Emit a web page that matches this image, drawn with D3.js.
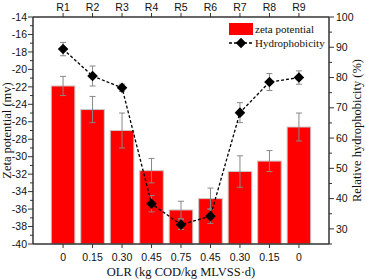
<!DOCTYPE html>
<html>
<head>
<meta charset="utf-8">
<script src="https://cdn.jsdelivr.net/npm/d3@7"></script>
<style>
  html, body { margin: 0; padding: 0; background: #fff; }
  svg { display: block; }
  .tick-label { font-family: "Liberation Sans", Arial, sans-serif; font-size: 10.5px; fill: #111; }
  .title { font-family: "Liberation Serif", "Times New Roman", serif; font-size: 12.5px; fill: #111; }
  .legend { font-family: "Liberation Serif", "Times New Roman", serif; font-size: 11px; fill: #111; }
</style>
</head>
<body>
<svg id="chart" width="366" height="279"></svg>
<script>
/* ─── Data ───────────────────────────────────────────────────────────── */

const reactors  = ['R1', 'R2', 'R3', 'R4', 'R5', 'R6', 'R7', 'R8', 'R9'];
const olrLabels = ['0', '0.15', '0.30', '0.45', '0.75', '0.45', '0.30', '0.15', '0'];

const zeta      = [-21.9, -24.6, -27.0, -31.6, -36.1, -34.8, -31.7, -30.5, -26.6];
const zetaErr   = [1.1, 1.5, 2.0, 1.4, 1.0, 1.2, 1.8, 1.2, 1.6];

const hydro     = [89.4, 80.5, 76.6, 38.3, 31.4, 34.2, 68.4, 78.5, 80.0];
const hydroErr  = [2.2, 3.3, 1.2, 2.7, 1.6, 2.4, 3.3, 2.8, 2.2];

const leftTicks  = d3.range(-40, -13, 2);
const rightTicks = [30, 40, 50, 60, 70, 80, 90, 100];

/* ─── Layout ─────────────────────────────────────────────────────────── */

const X0 = 33, X1 = 329, Y0 = 17, Y1 = 244;
const AXIS = '#333';
const ERR  = '#888';

const svg = d3.select('#chart');

const x  = d3.scalePoint().domain(d3.range(reactors.length)).range([X0, X1]).padding(1.02);
const bw = x.step() * 0.8;
const yL = d3.scaleLinear().domain([-40, -14]).range([Y1, Y0]);
const yR = d3.scaleLinear().domain([25, 100]).range([Y1, Y0]);

/* ─── Bars ───────────────────────────────────────────────────────────── */

svg.append('g').selectAll('rect')
  .data(zeta)
  .join('rect')
  .attr('x', (d, i) => x(i) - bw / 2)
  .attr('y', d => yL(d))
  .attr('width', bw)
  .attr('height', d => yL(-40) - yL(d))
  .attr('fill', '#ff0000')
  .attr('stroke', '#c8c8c8')
  .attr('stroke-width', 1);

function errorBars(vals, errs, scale) {
  const g = svg.append('g').attr('stroke', ERR).attr('stroke-width', 1);
  vals.forEach((v, i) => {
    const cx = x(i), top = scale(v + errs[i]), bot = scale(v - errs[i]);
    g.append('line').attr('x1', cx).attr('x2', cx).attr('y1', top).attr('y2', bot);
    g.append('line').attr('x1', cx - 3).attr('x2', cx + 3).attr('y1', top).attr('y2', top);
    g.append('line').attr('x1', cx - 3).attr('x2', cx + 3).attr('y1', bot).attr('y2', bot);
  });
}

errorBars(zeta, zetaErr, yL);

/* ─── Hydrophobicity line ────────────────────────────────────────────── */

errorBars(hydro, hydroErr, yR);

svg.append('path')
  .datum(hydro)
  .attr('fill', 'none')
  .attr('stroke', '#000')
  .attr('stroke-width', 1.3)
  .attr('stroke-dasharray', '3,2')
  .attr('d', d3.line().x((d, i) => x(i)).y(d => yR(d)));

const diamond = d3.symbol().type(d3.symbolSquare).size(56)();

svg.append('g').selectAll('path')
  .data(hydro)
  .join('path')
  .attr('d', diamond)
  .attr('transform', (d, i) => `translate(${x(i)},${yR(d)}) rotate(45)`)
  .attr('fill', '#000');

/* ─── Axes ───────────────────────────────────────────────────────────── */

const axes = svg.append('g').attr('stroke', AXIS).attr('stroke-width', 1.5);

// frame lines (left, right, top, bottom)
axes.append('line').attr('x1', X0).attr('x2', X0).attr('y1', Y0).attr('y2', Y1);
axes.append('line').attr('x1', X1).attr('x2', X1).attr('y1', Y0).attr('y2', Y1);
axes.append('line').attr('x1', X0).attr('x2', X1).attr('y1', Y0).attr('y2', Y0);
axes.append('line').attr('x1', X0).attr('x2', X1).attr('y1', Y1).attr('y2', Y1);

// left ticks: major every 2, minor every 1
d3.range(-40, -13, 1).forEach(v => {
  const major = v % 2 === 0;
  axes.append('line')
    .attr('x1', X0).attr('x2', X0 - (major ? 5 : 3))
    .attr('y1', yL(v)).attr('y2', yL(v))
    .attr('stroke-width', 1);
});
svg.append('g').selectAll('text')
  .data(leftTicks)
  .join('text')
  .attr('class', 'tick-label')
  .attr('x', X0 - 6)
  .attr('y', d => yL(d))
  .attr('dy', '0.35em')
  .attr('text-anchor', 'end')
  .text(d => d);

// right ticks: major every 10, minor every 5
d3.range(25, 101, 5).forEach(v => {
  const major = v % 10 === 0;
  axes.append('line')
    .attr('x1', X1).attr('x2', X1 + (major ? 5 : 3))
    .attr('y1', yR(v)).attr('y2', yR(v))
    .attr('stroke-width', 1);
});
svg.append('g').selectAll('text')
  .data(rightTicks)
  .join('text')
  .attr('class', 'tick-label')
  .attr('x', X1 + 7)
  .attr('y', d => yR(d))
  .attr('dy', '0.35em')
  .text(d => d);

// top / bottom category ticks
reactors.forEach((r, i) => {
  axes.append('line').attr('x1', x(i)).attr('x2', x(i)).attr('y1', Y0).attr('y2', Y0 - 4).attr('stroke-width', 1);
  axes.append('line').attr('x1', x(i)).attr('x2', x(i)).attr('y1', Y1).attr('y2', Y1 + 4).attr('stroke-width', 1);
});
svg.append('g').selectAll('text')
  .data(reactors)
  .join('text')
  .attr('class', 'tick-label')
  .attr('x', (d, i) => x(i))
  .attr('y', 11)
  .attr('text-anchor', 'middle')
  .text(d => d);
svg.append('g').selectAll('text')
  .data(olrLabels)
  .join('text')
  .attr('class', 'tick-label')
  .attr('x', (d, i) => x(i))
  .attr('y', 261)
  .attr('text-anchor', 'middle')
  .text(d => d);

/* ─── Titles ─────────────────────────────────────────────────────────── */

svg.append('text')
  .attr('class', 'title')
  .attr('x', (X0 + X1) / 2)
  .attr('y', 276)
  .attr('text-anchor', 'middle')
  .text('OLR (kg COD/kg MLVSS·d)');

svg.append('text')
  .attr('class', 'title')
  .attr('transform', `translate(11,${(Y0 + Y1) / 2}) rotate(-90)`)
  .attr('text-anchor', 'middle')
  .text('Zeta potential (mv)');

svg.append('text')
  .attr('class', 'title')
  .attr('transform', `translate(361,${(Y0 + Y1) / 2}) rotate(-90)`)
  .attr('text-anchor', 'middle')
  .text('Relative hydrophobicity (%)');

/* ─── Legend ─────────────────────────────────────────────────────────── */

const leg = svg.append('g');
leg.append('rect')
  .attr('x', 229).attr('y', 23).attr('width', 24).attr('height', 12)
  .attr('fill', '#ff0000');
leg.append('text').attr('class', 'legend').attr('x', 255).attr('y', 33).text('zeta potential');

leg.append('line')
  .attr('x1', 229).attr('x2', 253).attr('y1', 43).attr('y2', 43)
  .attr('stroke', '#000').attr('stroke-width', 1.3).attr('stroke-dasharray', '3,2');
leg.append('path')
  .attr('d', diamond)
  .attr('transform', 'translate(241,43) rotate(45)')
  .attr('fill', '#000');
leg.append('text').attr('class', 'legend').attr('x', 255).attr('y', 47).text('Hydrophobicity');
</script>
</body>
</html>
